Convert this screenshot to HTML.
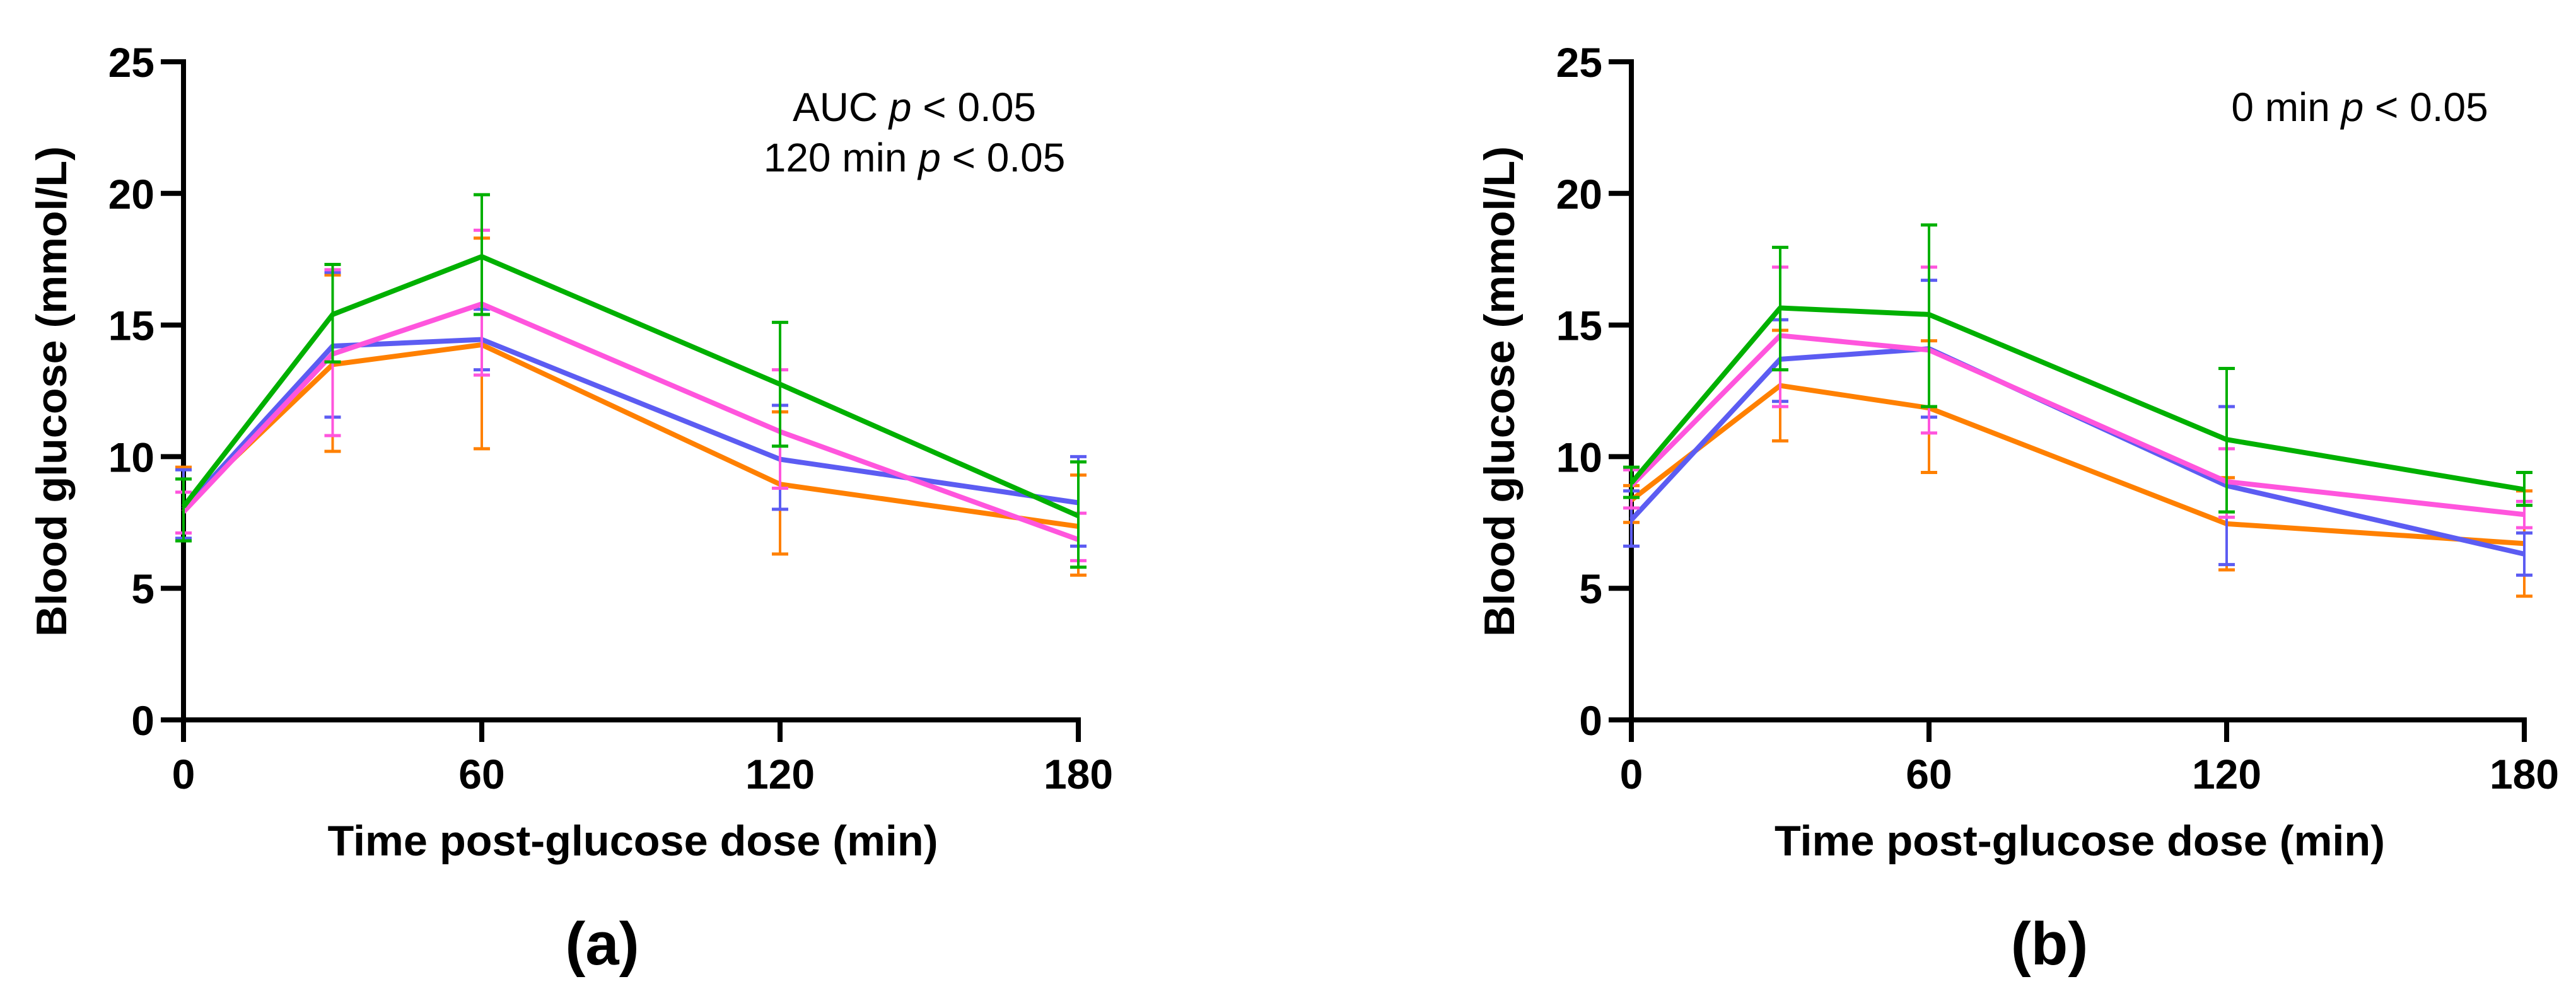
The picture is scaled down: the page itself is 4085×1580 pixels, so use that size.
<!DOCTYPE html>
<html><head><meta charset="utf-8">
<style>
html,body{margin:0;padding:0;background:#fff;}
svg{display:block;}
text{font-family:"Liberation Sans",Arial,sans-serif;fill:#000;}
</style></head>
<body>
<svg id="fig" width="4085" height="1580" viewBox="0 0 4085 1580" xmlns="http://www.w3.org/2000/svg">
<rect width="4085" height="1580" fill="#fff"/>
</svg>
<script>
const times = [0, 30, 60, 120, 180];
const yTicks = [0, 5, 10, 15, 20, 25];
const xTicks = [0, 60, 120, 180];
const seriesNames = ['orange', 'blue', 'pink', 'green'];
const seriesColors = ['#ff8000', '#5c5cf2', '#ff55dd', '#00b000'];
// Panel (a)
const aOrange = [8.1, 13.5, 14.25, 8.95, 7.35];
const aOrangeHi = [9.6, 16.9, 18.3, 11.7, 9.3];
const aOrangeLo = [6.8, 10.2, 10.3, 6.3, 5.5];
const aBlue = [8.0, 14.2, 14.45, 9.9, 8.25];
const aBlueHi = [9.5, 17.0, 15.6, 11.95, 10.0];
const aBlueLo = [6.9, 11.5, 13.3, 8.0, 6.6];
const aPink = [7.9, 13.9, 15.8, 10.95, 6.85];
const aPinkHi = [8.65, 17.1, 18.6, 13.3, 7.85];
const aPinkLo = [7.1, 10.8, 13.1, 8.8, 6.05];
const aGreen = [8.1, 15.4, 17.6, 12.75, 7.75];
const aGreenHi = [9.15, 17.3, 19.95, 15.1, 9.8];
const aGreenLo = [6.8, 13.6, 15.4, 10.4, 5.8];
// Panel (b)
const bOrange = [8.35, 12.7, 11.85, 7.45, 6.7];
const bOrangeHi = [8.9, 14.8, 14.4, 9.2, 8.7];
const bOrangeLo = [7.5, 10.6, 9.4, 5.7, 4.7];
const bBlue = [7.6, 13.7, 14.1, 8.9, 6.3];
const bBlueHi = [8.7, 15.2, 16.7, 11.9, 7.1];
const bBlueLo = [6.6, 12.1, 11.5, 5.9, 5.5];
const bPink = [8.9, 14.6, 14.05, 9.05, 7.8];
const bPinkHi = [9.5, 17.2, 17.2, 10.3, 8.3];
const bPinkLo = [8.05, 11.9, 10.9, 7.7, 7.3];
const bGreen = [9.0, 15.65, 15.4, 10.65, 8.75];
const bGreenHi = [9.6, 17.95, 18.8, 13.35, 9.4];
const bGreenLo = [8.45, 13.3, 11.9, 7.9, 8.15];

const NS = 'http://www.w3.org/2000/svg';
const svg = document.getElementById('fig');
function mk(tag, attrs, parent) {
  const e = document.createElementNS(NS, tag);
  for (const k in attrs) e.setAttribute(k, attrs[k]);
  (parent || svg).appendChild(e);
  return e;
}

function panel(p) {
  const g = mk('g', {});
  
  
  const xS = t => p.x0 + (t - 0) / 180 * (p.x1 - p.x0);
  const yS = v => p.y0 + (v - 0) / 25 * (p.y1 - p.y0);

  const ya = mk('line', {x1: p.x0, y1: p.y1 - 4, x2: p.x0, y2: p.y0 + 35, stroke: '#000', 'stroke-width': 8}, g);
  
  
  const xa = mk('line', {x1: p.x0 - 36, y1: p.y0, x2: p.x1 + 4, y2: p.y0, stroke: '#000', 'stroke-width': 8}, g);
  
  
  yTicks.forEach(v => {
    const y = yS(v);
    const t = mk('line', {x1: p.x0 - 36, y1: y, x2: p.x0, y2: y, stroke: '#000', 'stroke-width': 8}, g);
    
    
    const l = mk('text', {x: p.x0 - 46, y: y + 24, 'text-anchor': 'end', 'font-size': 66, 'font-weight': 'bold'}, g);
    l.textContent = v;
    
    
  });
  xTicks.forEach(v => {
    const x = xS(v);
    const t = mk('line', {x1: x, y1: p.y0, x2: x, y2: p.y0 + 35, stroke: '#000', 'stroke-width': 8}, g);
    
    
    const l = mk('text', {x: x, y: 1251, 'text-anchor': 'middle', 'font-size': 66, 'font-weight': 'bold'}, g);
    l.textContent = v;
    
    
  });
  const yt = mk('text', {x: 0, y: 0, 'text-anchor': 'middle', 'font-size': 68, 'font-weight': 'bold',
    transform: 'translate(' + (p.x0 - 186) + ',621) rotate(-90)', textLength: 778, lengthAdjust: 'spacingAndGlyphs'}, g);
  yt.textContent = 'Blood glucose (mmol/L)';
  
  
  const xt = mk('text', {x: (p.x0 + p.x1) / 2 + 3, y: 1357, 'text-anchor': 'middle', 'font-size': 68, 'font-weight': 'bold', textLength: 968, lengthAdjust: 'spacingAndGlyphs'}, g);
  xt.textContent = 'Time post-glucose dose (min)';
  
  

  p.series.forEach((s, i) => {
    const col = seriesColors[i];
    const sg = mk('g', {}, g);
    
    
    times.forEach((t, j) => {
      const x = xS(t), yh = yS(s.hi[j]), yl = yS(s.lo[j]);
      const eb = mk('line', {x1: x, y1: yh, x2: x, y2: yl, stroke: col, 'stroke-width': 4}, sg);
      
      
      [yh, yl].forEach(yy => {
        const c = mk('line', {x1: x - 13, y1: yy, x2: x + 13, y2: yy, stroke: col, 'stroke-width': 5}, sg);
        
        
      });
    });
    const pts = times.map((t, j) => xS(t) + ',' + yS(s.m[j])).join(' ');
    const ln = mk('polyline', {points: pts, fill: 'none', stroke: col, 'stroke-width': 8, 'stroke-linejoin': 'round'}, sg);
    
    
  });

  p.notes.forEach((n, k) => {
    const t = mk('text', {x: p.noteX, y: 192 + k * 80, 'text-anchor': 'middle', 'font-size': 64}, g);
    
    
    const a = document.createElementNS(NS, 'tspan'); a.textContent = n[0] + ' ';
    const b = document.createElementNS(NS, 'tspan'); b.setAttribute('font-style', 'italic'); b.textContent = 'p';
    const c = document.createElementNS(NS, 'tspan'); c.textContent = ' < 0.05';
    t.appendChild(a); t.appendChild(b); t.appendChild(c);
  });
  const lab = mk('text', {x: p.labelX, y: 1530, 'text-anchor': 'middle', 'font-size': 96, 'font-weight': 'bold'}, g);
  lab.textContent = '(' + p.id + ')';
  
  
}

panel({id: 'a', x0: 291, x1: 1710, y0: 1142, y1: 98, noteX: 1450, labelX: 955,
  notes: [['AUC'], ['120 min']],
  series: [
    {m: aOrange, hi: aOrangeHi, lo: aOrangeLo},
    {m: aBlue, hi: aBlueHi, lo: aBlueLo},
    {m: aPink, hi: aPinkHi, lo: aPinkLo},
    {m: aGreen, hi: aGreenHi, lo: aGreenLo}]});
panel({id: 'b', x0: 2587, x1: 4003, y0: 1142, y1: 98, noteX: 3742, labelX: 3250,
  notes: [['0 min']],
  series: [
    {m: bOrange, hi: bOrangeHi, lo: bOrangeLo},
    {m: bBlue, hi: bBlueHi, lo: bBlueLo},
    {m: bPink, hi: bPinkHi, lo: bPinkLo},
    {m: bGreen, hi: bGreenHi, lo: bGreenLo}]});
</script>
</body></html>
